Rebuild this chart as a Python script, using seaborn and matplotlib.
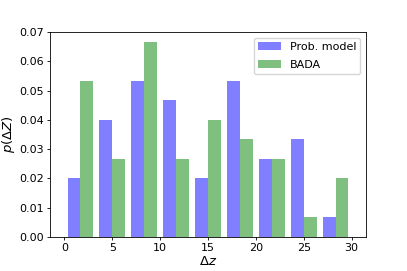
import numpy as np
import pandas as pd
import matplotlib
matplotlib.use("Agg")
import matplotlib.pyplot as plt
import seaborn as sns

# density per bin of delta z (9 bins between 0 and 30)
bin_edges = np.linspace(0, 30, 10).tolist()
prob_model = [0.0200, 0.0400, 0.0533, 0.0467, 0.0200, 0.0533, 0.0267, 0.0333, 0.0067]
bada = [0.0533, 0.0267, 0.0667, 0.0267, 0.0400, 0.0333, 0.0267, 0.0067, 0.0200]
series_names = ["Prob. model", "BADA"]

centers = [(a + b) / 2 for a, b in zip(bin_edges[:-1], bin_edges[1:])]
df = pd.concat([
    pd.DataFrame({"dz": centers, "p": prob_model, "series": series_names[0]}),
    pd.DataFrame({"dz": centers, "p": bada, "series": series_names[1]}),
])

plt.rcParams.update({
    "font.size": 8,
    "axes.labelsize": 9.5,
    "axes.linewidth": 0.6,
    "xtick.major.size": 2.2, "ytick.major.size": 2.2,
    "xtick.major.width": 0.6, "ytick.major.width": 0.6,
    "xtick.major.pad": 2.2, "ytick.major.pad": 2.2,
    "axes.labelpad": 1.5,
})

fig, ax = plt.subplots(figsize=(4.07, 2.71), dpi=100)
fig.subplots_adjust(left=50 / 407, right=366 / 407, top=1 - 32 / 271, bottom=1 - 237 / 271)
sns.histplot(data=df, x="dz", weights="p", hue="series", hue_order=series_names,
             bins=bin_edges, multiple="dodge", shrink=0.8, alpha=0.5,
             palette={"Prob. model": "blue", "BADA": "green"},
             linewidth=0, ax=ax)

ax.set_xlabel(r"$\Delta z$")
ax.set_ylabel(r"$p(\Delta Z)$")
ax.set_xlim(-1.5, 31.5)
ax.set_ylim(0, 0.07)
ax.set_xticks([0, 5, 10, 15, 20, 25, 30])
sns.move_legend(ax, "upper right", title=None, fontsize=8, labelspacing=0.7)

fig.savefig("out.png", dpi=100)
